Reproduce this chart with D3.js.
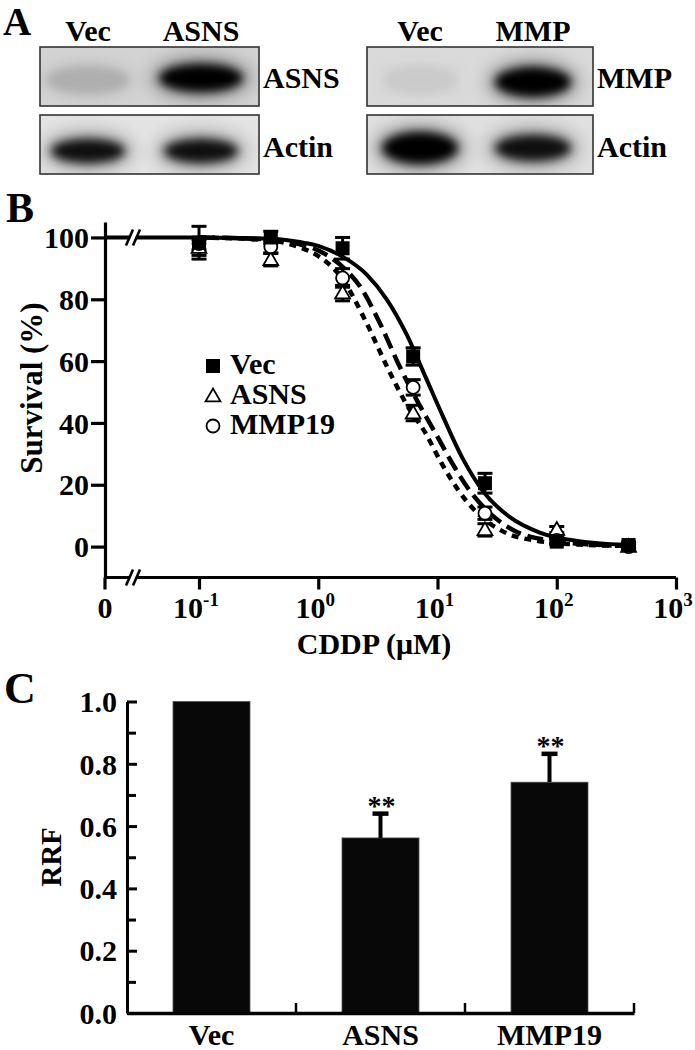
<!DOCTYPE html>
<html><head><meta charset="utf-8">
<script src="https://cdn.jsdelivr.net/npm/d3@7"></script>
<style>
body{margin:0;background:#fff}
svg{display:block}
text{font-family:"Liberation Serif","Times New Roman",serif;font-weight:bold;fill:#000}
</style>
</head><body>
<svg id="c" width="695" height="1050"></svg>
<script>
// ---------- Panel A data (band intensities, 0..1) ----------
const blotLanesLeft = ["Vec", "ASNS"];
const blotLanesRight = ["Vec", "MMP"];
const asnsBand = [0.13, 1.0];
const asnsActin = [0.9, 0.9];
const mmpBand = [0.05, 1.0];
const mmpActin = [1.0, 0.9];

// ---------- Panel B data ----------
const concentrations = [0.1, 0.4, 1.6, 6.25, 25, 100, 400];
const vecSurvival = [98.3, 100, 96.5, 61.5, 20.5, 1.6, 0.5];
const vecErr = [5.3, 2, 3.5, 2.8, 3.2, 1, 1];
const asnsSurvival = [96.7, 92.8, 82, 43.2, 5.4, 5.5, 0];
const asnsErr = [2.5, 2, 2.5, 2.5, 2, 1, 1];
const mmpSurvival = [98, 97, 86.9, 51.5, 10.8, 2, 0];
const mmpErr = [2, 2, 3, 2.5, 2, 1, 1];

// fitted curves
const fitVecConc = [0.1, 0.4, 0.7, 1.0, 1.6, 2.55, 3.75, 5.5, 7.85, 11.2, 16, 24, 40.5, 72, 166, 437];
const fitVecVal = [100, 99.6, 98.5, 97.3, 93.8, 88, 80, 68.7, 55.3, 41.8, 29, 18, 9.5, 4.5, 1.6, 0.5];
const fitMmpConc = [0.1, 0.4, 0.7, 1.0, 1.6, 2.3, 3.19, 4.85, 6.9, 9.84, 13.5, 18.7, 28, 45, 80, 170, 437];
const fitMmpVal = [100, 99.3, 97.8, 95.8, 90.5, 83.5, 73.3, 58, 46.5, 36, 26.5, 18, 10.5, 5, 2.2, 0.8, 0.2];
const fitAsnsConc = [0.1, 0.4, 0.7, 1.0, 1.6, 2.47, 3.85, 5.5, 7.85, 10.8, 14.9, 22, 35, 70, 170, 437];
const fitAsnsVal = [100, 99, 96.8, 94, 86.5, 73.3, 57.5, 46, 37, 27, 18.3, 10.5, 5, 1.8, 0.6, 0.2];

const xTicksB = [0.1, 1, 10, 100, 1000];
const yTicksB = [0, 20, 40, 60, 80, 100];
const legendLabels = ["Vec", "ASNS", "MMP19"];

// ---------- Panel C data ----------
const rrfCategories = ["Vec", "ASNS", "MMP19"];
const rrfValues = [1.0, 0.562, 0.741];
const rrfErr = [0, 0.078, 0.091];
const rrfSig = ["", "**", "**"];
const yTicksC = [0, 0.2, 0.4, 0.6, 0.8, 1.0];
const yMinorC = [0.1, 0.3, 0.5, 0.7, 0.9];

const svg = d3.select("#c");
const defs = svg.append("defs");
defs.append("filter").attr("id", "blur").attr("x", "-50%").attr("y", "-80%").attr("width", "200%").attr("height", "260%")
  .append("feGaussianBlur").attr("stdDeviation", 5);
defs.append("filter").attr("id", "blur2").attr("x", "-50%").attr("y", "-80%").attr("width", "200%").attr("height", "260%")
  .append("feGaussianBlur").attr("stdDeviation", 9);

// ================= Panel A =================
svg.append("text").attr("x", 3).attr("y", 35).style("font-size", "39px").text("A");

const blots = [
  {id: "L", x0: 40, x1: 259, lanes: [88, 201], headers: blotLanesLeft, target: "ASNS", tI: asnsBand, aI: asnsActin,
   bg1: "#d3d3d3", bg2: "#e3e3e3", tr: [42, 14], ar: [37, 12], tdy: [80, 78], ady: 151},
  {id: "R", x0: 367, x1: 593, lanes: [420, 533], headers: blotLanesRight, target: "MMP", tI: mmpBand, aI: mmpActin,
   bg1: "#dadada", bg2: "#e0e0e0", tr: [38, 15], ar: [38, 13], tdy: [80, 82], ady: 148}
];
blots.forEach(b => {
  const rows = [
    {y0: 47, y1: 106, bg: b.bg1, inten: b.tI, r: b.tr, cy: b.tdy, label: b.target, ly: 88},
    {y0: 115, y1: 174, bg: b.bg2, inten: b.aI, r: b.ar, cy: [b.ady, b.ady], label: "Actin", ly: 157}
  ];
  rows.forEach((row, ri) => {
    const cid = "clip" + b.id + ri;
    defs.append("clipPath").attr("id", cid).append("rect")
      .attr("x", b.x0).attr("y", row.y0).attr("width", b.x1 - b.x0).attr("height", row.y1 - row.y0);
    const g = svg.append("g").attr("clip-path", `url(#${cid})`);
    g.append("rect").attr("x", b.x0).attr("y", row.y0).attr("width", b.x1 - b.x0).attr("height", row.y1 - row.y0).attr("fill", row.bg);
    row.inten.forEach((v, i) => {
      let rx = row.r[0], ry = row.r[1];
      if (b.id === "R" && ri === 1 && i === 0) { rx = 38; ry = 16; }
      g.append("ellipse").attr("cx", b.lanes[i]).attr("cy", row.cy[i])
        .attr("rx", rx + 8).attr("ry", ry + 7).attr("fill", "#000").attr("opacity", v * 0.35)
        .attr("filter", "url(#blur2)");
      g.append("ellipse").attr("cx", b.lanes[i]).attr("cy", row.cy[i])
        .attr("rx", rx).attr("ry", ry).attr("fill", "#000").attr("opacity", v)
        .attr("filter", "url(#blur)");
    });
    svg.append("rect").attr("x", b.x0).attr("y", row.y0).attr("width", b.x1 - b.x0).attr("height", row.y1 - row.y0)
      .attr("fill", "none").attr("stroke", "#333").attr("stroke-width", 1.6);
    svg.append("text").attr("x", b.x1 + 4).attr("y", row.ly).style("font-size", "30px").text(row.label);
  });
  b.headers.forEach((h, i) => {
    svg.append("text").attr("x", b.lanes[i]).attr("y", 41).attr("text-anchor", "middle").style("font-size", "30px").text(h);
  });
});

// ================= Panel B =================
svg.append("text").attr("x", 6).attr("y", 222).style("font-size", "42px").text("B");

const xB = d3.scaleLog().domain([0.1, 1000]).range([199, 676]);
const xZero = 105;
const yB = d3.scaleLinear().domain([-10, 105]).range([577.5, 222]);
const gB = svg.append("g");

// y axis
const yAx = gB.append("g").attr("transform", `translate(${xZero},0)`)
  .call(d3.axisLeft(yB).tickValues(yTicksB).tickSize(14).tickSizeOuter(0).tickPadding(2).tickFormat(d3.format("d")));
yAx.selectAll("path,line").attr("stroke", "#000").attr("stroke-width", 3.2);
yAx.selectAll("text").style("font-size", "30px").attr("font-family", null).attr("dy", "0.34em");

// x axis
const xAx = gB.append("g").attr("transform", `translate(0,${yB(-10)})`)
  .call(d3.axisBottom(xB).tickValues(xTicksB).tickSize(12).tickSizeOuter(0).tickFormat(""));
xAx.select("path").remove();
xAx.selectAll("line").attr("stroke", "#000").attr("stroke-width", 3.2);
gB.append("line").attr("x1", xZero).attr("x2", xB(1000)).attr("y1", yB(-10)).attr("y2", yB(-10))
  .attr("stroke", "#000").attr("stroke-width", 3.2);
gB.append("line").attr("x1", xZero).attr("x2", xZero).attr("y1", yB(-10)).attr("y2", yB(-10) + 12)
  .attr("stroke", "#000").attr("stroke-width", 3.2);
gB.append("text").attr("x", xZero).attr("y", 618).attr("text-anchor", "middle").style("font-size", "30px").text("0");
xTicksB.forEach(t => {
  const e = Math.round(Math.log10(t));
  const tx = gB.append("text").attr("x", xB(t) - 3).attr("y", 618).attr("text-anchor", "middle").style("font-size", "30px");
  tx.append("tspan").text("10");
  tx.append("tspan").attr("dy", -12).style("font-size", "19px").text(e < 0 ? "-" + (-e) : String(e));
});

// axis titles
gB.append("text").attr("transform", `translate(42,388) rotate(-90)`).attr("text-anchor", "middle")
  .style("font-size", "31px").text("Survival (%)");
gB.append("text").attr("x", 374).attr("y", 654).attr("text-anchor", "middle").style("font-size", "30px").text("CDDP (\u03bcM)");

// curves
const lineB = d3.line().x(d => xB(d[0])).y(d => yB(d[1])).curve(d3.curveMonotoneX);
const curves = [
  {c: fitAsnsConc, v: fitAsnsVal, dash: "7,6", w: 4.5},
  {c: fitMmpConc, v: fitMmpVal, dash: "16,7", w: 4.5},
  {c: fitVecConc, v: fitVecVal, dash: null, w: 4}
];
curves.forEach(cv => {
  const pts = cv.c.map((c, i) => [c, cv.v[i]]);
  gB.append("path").attr("d", lineB(pts)).attr("fill", "none").attr("stroke", "#000")
    .attr("stroke-width", cv.w).attr("stroke-dasharray", cv.dash);
});
gB.append("line").attr("x1", xZero).attr("x2", xB(0.1)).attr("y1", yB(fitVecVal[0])).attr("y2", yB(fitVecVal[0]))
  .attr("stroke", "#000").attr("stroke-width", 4);

// axis break marks
function breakMark(cx, cy) {
  gB.append("polygon").attr("points", `${cx - 6},${cy + 8} ${cx + 1},${cy - 8} ${cx + 6},${cy - 8} ${cx - 1},${cy + 8}`)
    .attr("fill", "#fff");
  [-3.5, 3.5].forEach(o => {
    gB.append("line").attr("x1", cx + o - 3.5).attr("y1", cy + 8).attr("x2", cx + o + 3.5).attr("y2", cy - 8)
      .attr("stroke", "#000").attr("stroke-width", 2.6);
  });
}
breakMark(133, yB(-10));
breakMark(133, yB(100));

// error bars and markers
const seriesB = [
  {v: vecSurvival, e: vecErr, m: "square"},
  {v: mmpSurvival, e: mmpErr, m: "circle"},
  {v: asnsSurvival, e: asnsErr, m: "triangle"}
];
function drawMarker(g, type, x, y) {
  if (type === "square") {
    g.append("rect").attr("x", x - 7).attr("y", y - 7).attr("width", 14).attr("height", 14).attr("fill", "#000");
  } else if (type === "circle") {
    g.append("circle").attr("cx", x).attr("cy", y).attr("r", 6.5).attr("fill", "#fff").attr("stroke", "#000").attr("stroke-width", 1.8);
  } else {
    g.append("path").attr("d", d3.symbol().type(d3.symbolTriangle).size(95)()).attr("transform", `translate(${x},${y + 1})`)
      .attr("fill", "#fff").attr("stroke", "#000").attr("stroke-width", 1.8);
  }
}
seriesB.forEach(s => {
  concentrations.forEach((c, i) => {
    const x = xB(c), y0 = yB(s.v[i] - s.e[i]), y1 = yB(s.v[i] + s.e[i]);
    gB.append("line").attr("x1", x).attr("x2", x).attr("y1", y0).attr("y2", y1).attr("stroke", "#000").attr("stroke-width", 3);
    [y0, y1].forEach(yy => gB.append("line").attr("x1", x - 7.5).attr("x2", x + 7.5).attr("y1", yy).attr("y2", yy)
      .attr("stroke", "#000").attr("stroke-width", 3));
  });
});
seriesB.slice().reverse().forEach(s => {
  concentrations.forEach((c, i) => drawMarker(gB, s.m, xB(c), yB(s.v[i])));
});

// legend
const legTypes = ["square", "triangle", "circle"];
legendLabels.forEach((l, i) => {
  drawMarker(gB, legTypes[i], 213, 366 + i * 30);
  gB.append("text").attr("x", 230).attr("y", 374 + i * 30).style("font-size", "30px").text(l);
});

// ================= Panel C =================
svg.append("text").attr("x", 4).attr("y", 703).style("font-size", "44px").text("C");
const xC = d3.scaleBand().domain(rrfCategories).range([127, 634]).paddingInner(0).paddingOuter(0);
const yC = d3.scaleLinear().domain([0, 1]).range([1013, 701.5]);
const gC = svg.append("g");
const barW = 77;

gC.selectAll("rect.bar").data(rrfCategories).enter().append("rect").attr("class", "bar")
  .attr("x", d => xC(d) + (xC.bandwidth() - barW) / 2).attr("width", barW)
  .attr("y", (d, i) => yC(rrfValues[i])).attr("height", (d, i) => yC(0) - yC(rrfValues[i]))
  .attr("fill", "#080808").attr("stroke", "#555").attr("stroke-width", 0.8);

rrfCategories.forEach((d, i) => {
  if (!rrfErr[i]) return;
  const cx = xC(d) + xC.bandwidth() / 2;
  const yt = yC(rrfValues[i] + rrfErr[i]);
  gC.append("line").attr("x1", cx).attr("x2", cx).attr("y1", yC(rrfValues[i])).attr("y2", yt).attr("stroke", "#000").attr("stroke-width", 4);
  gC.append("line").attr("x1", cx - 8).attr("x2", cx + 8).attr("y1", yt).attr("y2", yt).attr("stroke", "#000").attr("stroke-width", 4.5);
  gC.append("text").attr("x", cx + 1).attr("y", yt + 1).attr("text-anchor", "middle").style("font-size", "28px").text(rrfSig[i]);
});

const yAxC = gC.append("g").attr("transform", "translate(127,0)")
  .call(d3.axisLeft(yC).tickValues(yTicksC).tickSize(-10).tickSizeOuter(0).tickPadding(10).tickFormat(d3.format(".1f")));
yAxC.selectAll("path,line").attr("stroke", "#000").attr("stroke-width", 3);
yAxC.selectAll("text").style("font-size", "30px").attr("font-family", null).attr("dy", "0.34em");
const yMinAx = gC.append("g").attr("transform", "translate(127,0)")
  .call(d3.axisLeft(yC).tickValues(yMinorC).tickSize(-9).tickSizeOuter(0).tickFormat(""));
yMinAx.select("path").remove();
yMinAx.selectAll("line").attr("stroke", "#000").attr("stroke-width", 3);

const xAxC = gC.append("g").attr("transform", `translate(0,${yC(0)})`)
  .call(d3.axisBottom(xC).tickSize(0).tickSizeOuter(0).tickPadding(0).tickFormat(""));
xAxC.select("path").attr("stroke", "#000").attr("stroke-width", 3.5);
rrfCategories.forEach(d => {
  const bx = xC(d) + xC.bandwidth();
  gC.append("line").attr("x1", bx).attr("x2", bx).attr("y1", yC(0)).attr("y2", yC(0) - 10).attr("stroke", "#000").attr("stroke-width", 2.5);
  gC.append("text").attr("x", xC(d) + xC.bandwidth() / 2).attr("y", 1045).attr("text-anchor", "middle").style("font-size", "30px").text(d);
});

gC.append("text").attr("transform", "translate(61,857) rotate(-90)").attr("text-anchor", "middle").style("font-size", "29px").text("RRF");
</script>
</body></html>
